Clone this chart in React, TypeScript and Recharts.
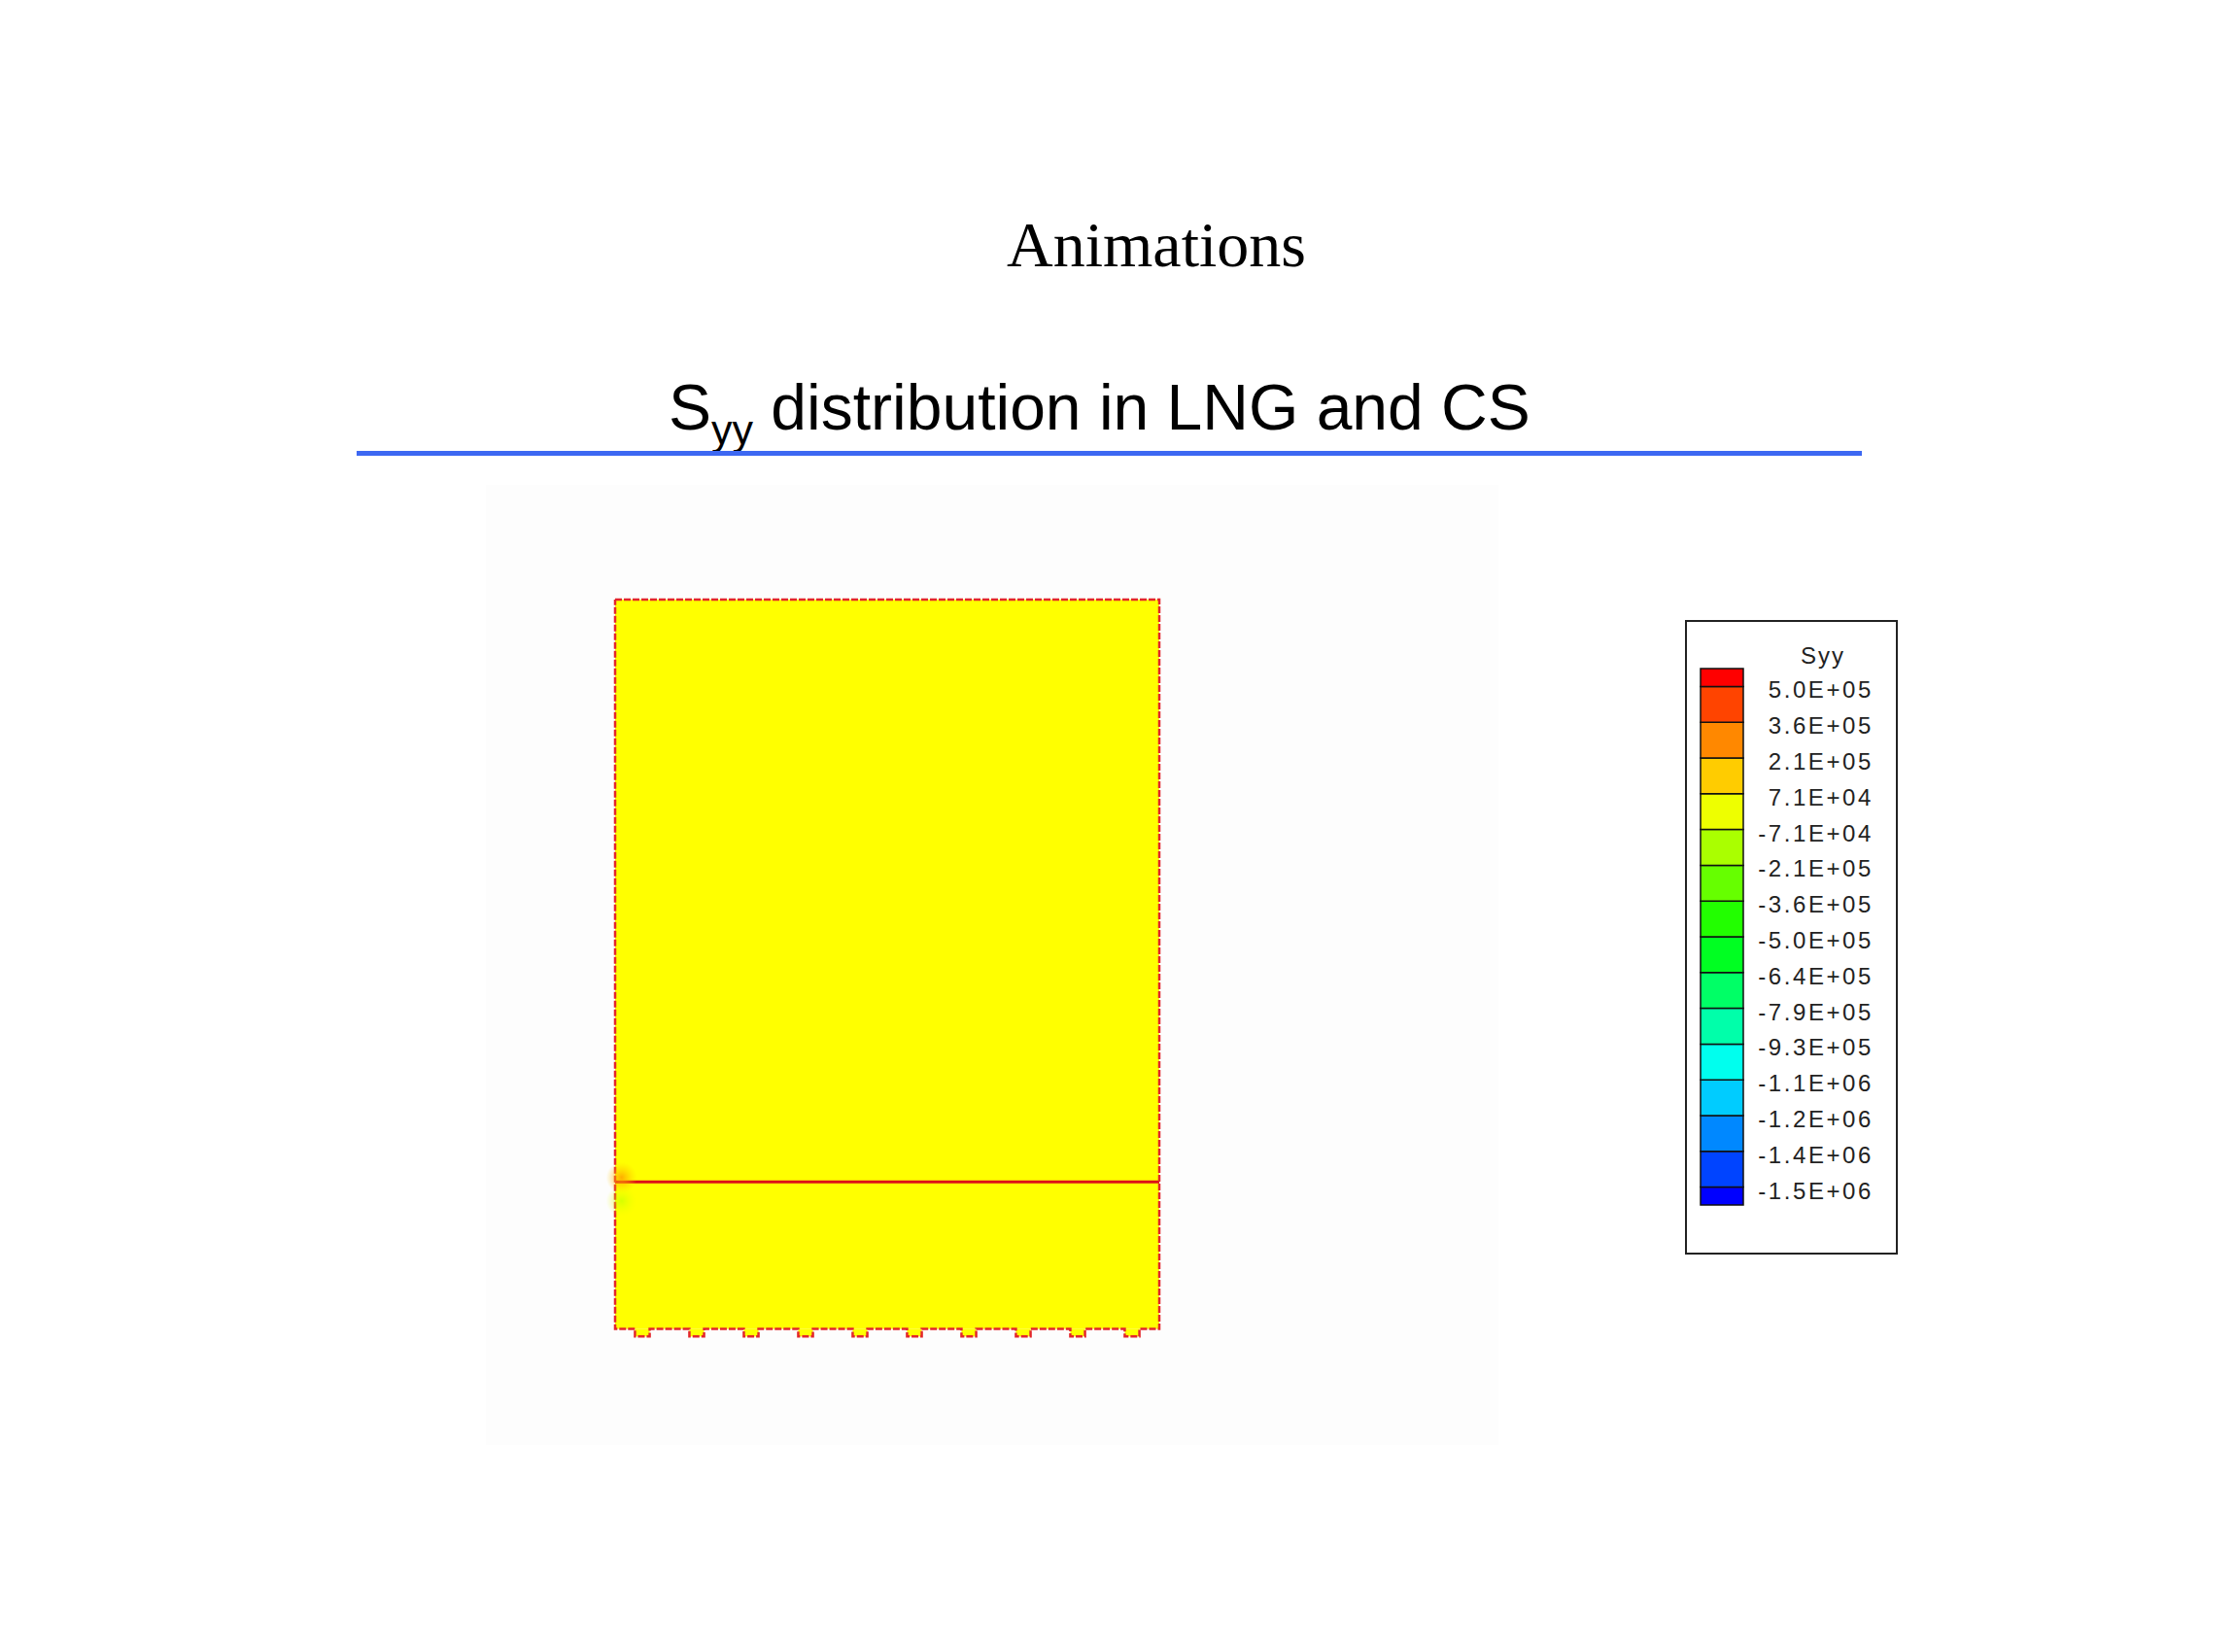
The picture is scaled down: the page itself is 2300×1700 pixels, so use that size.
import React from 'react';
import {
  ComposedChart, Line, Scatter, XAxis, YAxis, ReferenceArea, ReferenceLine,
  BarChart, Bar,
} from 'recharts';

// model geometry (slab units)
const bodyWidth = 10;
const bodyHeight = 13.4;
const interfaceY = 2.7;
const notchCenters = [0.5, 1.5, 2.5, 3.5, 4.5, 5.5, 6.5, 7.5, 8.5, 9.5];
const notchHalfWidth = 0.135;
const notchDepth = 0.14;
const hotSpots = [
  { x: 0.12, y: 2.78, kind: 'warm' },
  { x: 0.12, y: 2.35, kind: 'cool' },
];

// contour legend, top to bottom
const legendLabels = [
  '5.0E+05', '3.6E+05', '2.1E+05', '7.1E+04', '-7.1E+04', '-2.1E+05', '-3.6E+05', '-5.0E+05',
  '-6.4E+05', '-7.9E+05', '-9.3E+05', '-1.1E+06', '-1.2E+06', '-1.4E+06', '-1.5E+06',
];
const bandColors = [
  '#ff0000', '#ff4400', '#ff8800', '#ffcc00', '#eeff00', '#aaff00', '#66ff00', '#22ff00',
  '#00ff22', '#00ff66', '#00ffaa', '#00ffee', '#00ccff', '#0088ff', '#0044ff', '#0000ff',
];
const bandSizes = [0.5, 1, 1, 1, 1, 1, 1, 1, 1, 1, 1, 1, 1, 1, 1, 0.5];

// outline path built from the geometry above
const outline: { x: number; y: number }[] = [
  { x: 0, y: bodyHeight },
  { x: bodyWidth, y: bodyHeight },
  { x: bodyWidth, y: 0 },
];
[...notchCenters].reverse().forEach((c) => {
  outline.push({ x: c + notchHalfWidth, y: 0 });
  outline.push({ x: c + notchHalfWidth, y: -notchDepth });
  outline.push({ x: c - notchHalfWidth, y: -notchDepth });
  outline.push({ x: c - notchHalfWidth, y: 0 });
});
outline.push({ x: 0, y: 0 });
outline.push({ x: 0, y: bodyHeight });

// stacked bars go bottom-up
const legendRow: Record<string, number | string> = { name: 'Syy' };
const bottomUpColors = [...bandColors].reverse();
const bottomUpSizes = [...bandSizes].reverse();
bottomUpSizes.forEach((s, i) => { legendRow['b' + i] = s; });
const legendTicks = legendLabels.map((_, i) => 14.5 - i);

const HotSpot = (props: any) => {
  const { cx, cy, payload } = props;
  return <circle cx={cx} cy={cy} r={16} fill={payload.kind === 'warm' ? 'url(#warmGrad)' : 'url(#coolGrad)'} />;
};

const LegendTick = (props: any) => {
  const { x, y, payload } = props;
  const idx = legendTicks.indexOf(payload.value);
  return (
    <text x={x + 126} y={y} dy={12} textAnchor="end" fontFamily="Liberation Sans" fontSize={24} letterSpacing={2.6} fill="#222">
      {legendLabels[idx]}
    </text>
  );
};

const App = () => {
  return (
    <div style={{ position: 'absolute', left: 0, top: 0, width: 2300, height: 1700, background: '#fff' }}>
      <svg width={2300} height={1700} style={{ position: 'absolute', left: 0, top: 0 }}>
        <text x={1190} y={274} textAnchor="middle" fontFamily="Liberation Serif" fontSize={66} fill="#000">Animations</text>
        <text x={688} y={442} fontFamily="Liberation Sans" fontSize={66} fill="#000">
          S<tspan dy={15} fontSize={43}>yy</tspan><tspan dy={-15}> distribution in LNG and CS</tspan>
        </text>
        <rect x={367} y={464} width={1549} height={5} fill="#3d68f2" />
      </svg>

      <div style={{ position: 'absolute', left: 500, top: 499, width: 1042, height: 988, background: '#fdfdfd' }} />

      <div style={{ position: 'absolute', left: 623, top: 607 }}>
        <ComposedChart width={580} height={780} margin={{ top: 10, right: 10, bottom: 10, left: 10 }}>
          <defs>
            <radialGradient id="warmGrad">
              <stop offset="0%" stopColor="#ff9900" stopOpacity={0.8} />
              <stop offset="100%" stopColor="#ffcc00" stopOpacity={0} />
            </radialGradient>
            <radialGradient id="coolGrad">
              <stop offset="0%" stopColor="#bbff00" stopOpacity={0.6} />
              <stop offset="100%" stopColor="#eeff00" stopOpacity={0} />
            </radialGradient>
          </defs>
          <XAxis type="number" dataKey="x" domain={[0, bodyWidth]} hide />
          <YAxis type="number" dataKey="y" domain={[-0.17, bodyHeight]} hide />
          <ReferenceArea x1={0} x2={bodyWidth} y1={0} y2={bodyHeight} fill="#ffff00" fillOpacity={1} stroke="none" />
          {notchCenters.map((c) => (
            <ReferenceArea key={c} x1={c - notchHalfWidth} x2={c + notchHalfWidth} y1={-notchDepth} y2={0}
              fill="#ffff00" fillOpacity={1} stroke="none" />
          ))}
          <Scatter data={hotSpots} shape={<HotSpot />} isAnimationActive={false} />
          <ReferenceLine y={interfaceY} stroke="#dc1018" strokeWidth={3} />
          <Line data={outline} dataKey="y" type="linear" stroke="#e3262b" strokeWidth={2.5}
            strokeDasharray="7 2" dot={false} isAnimationActive={false} />
        </ComposedChart>
      </div>

      <div style={{ position: 'absolute', left: 1734, top: 638, width: 219, height: 653, border: '2px solid #222', boxSizing: 'border-box', background: '#fff' }} />
      <div style={{ position: 'absolute', left: 1853, top: 661, fontFamily: 'Liberation Sans', fontSize: 24, letterSpacing: 2, color: '#222' }}>Syy</div>
      <div style={{ position: 'absolute', left: 1734, top: 638 }}>
        <BarChart width={219} height={653} data={[legendRow]} margin={{ top: 50, right: 28, bottom: 51, left: 16 }} barCategoryGap={0}>
          <XAxis type="category" dataKey="name" hide />
          <YAxis type="number" orientation="right" width={131} domain={[0, 15]} ticks={legendTicks}
            interval={0} axisLine={false} tickLine={false} tick={<LegendTick />} />
          {bottomUpColors.map((col, i) => (
            <Bar key={i} dataKey={'b' + i} stackId="c" fill={col} stroke="#111" strokeWidth={1.5} isAnimationActive={false} />
          ))}
        </BarChart>
      </div>
    </div>
  );
};

export default App;
